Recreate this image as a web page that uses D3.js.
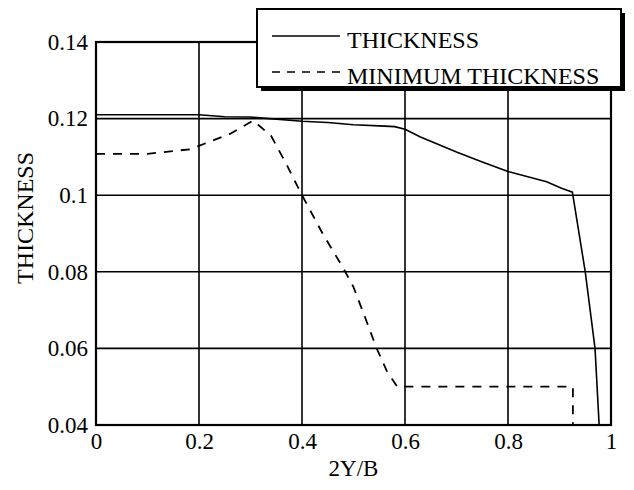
<!DOCTYPE html>
<html>
<head>
<meta charset="utf-8">
<script src="https://cdn.jsdelivr.net/npm/d3@7"></script>
<style>
  body { margin: 0; background: #fff; }
  svg text { font-family: "Liberation Serif", "Times New Roman", serif; fill: #000; }
</style>
</head>
<body>
<svg id="chart" width="634" height="490"></svg>
<script>
// span position 2Y/B and thickness values
var thickX = [0, 0.2, 0.25, 0.3, 0.4, 0.45, 0.5, 0.55, 0.58, 0.6, 0.63, 0.7, 0.75, 0.8, 0.875, 0.904, 0.925, 0.95, 0.969, 0.977];
var thickY = [0.121, 0.121, 0.1205, 0.1204, 0.1193, 0.119, 0.1184, 0.1181, 0.1179, 0.1172, 0.1152, 0.1113, 0.1087, 0.1062, 0.1035, 0.1018, 0.1008, 0.08, 0.06, 0.04];

var minX = [0, 0.1, 0.183, 0.2, 0.26, 0.305, 0.34, 0.37, 0.4, 0.44, 0.48, 0.5, 0.52, 0.545, 0.565, 0.585, 0.926, 0.926];
var minY = [0.1108, 0.1108, 0.112, 0.1129, 0.116, 0.1195, 0.1155, 0.108, 0.1, 0.09, 0.081, 0.076, 0.069, 0.06, 0.054, 0.05, 0.05, 0.04];

var xTicks = [0, 0.2, 0.4, 0.6, 0.8, 1];
var yTicks = [0.04, 0.06, 0.08, 0.1, 0.12, 0.14];
var legendLabels = ["THICKNESS", "MINIMUM THICKNESS"];

var svg = d3.select("#chart");
var margin = {top: 42, left: 96, right: 23, bottom: 65};
var width = 634 - margin.left - margin.right,
    height = 490 - margin.top - margin.bottom;

var x = d3.scaleLinear().domain([0, 1]).range([margin.left, margin.left + width]);
var y = d3.scaleLinear().domain([0.04, 0.14]).range([margin.top + height, margin.top]);

var fmt = function(d) { return d === 0 ? "0" : d === 1 ? "1" : String(+d.toFixed(2)); };

// grid lines
var grid = svg.append("g");
grid.selectAll(".vg").data(xTicks).enter().append("line")
    .attr("x1", d => x(d)).attr("x2", d => x(d))
    .attr("y1", y(0.04)).attr("y2", y(0.14))
    .attr("stroke", "#000").attr("stroke-width", 1.6);
grid.selectAll(".hg").data(yTicks).enter().append("line")
    .attr("x1", x(0)).attr("x2", x(1))
    .attr("y1", d => y(d)).attr("y2", d => y(d))
    .attr("stroke", "#000").attr("stroke-width", 1.6);

// frame
svg.append("rect")
    .attr("x", x(0)).attr("y", y(0.14))
    .attr("width", x(1) - x(0)).attr("height", y(0.04) - y(0.14))
    .attr("fill", "none").attr("stroke", "#000").attr("stroke-width", 2.2);

// axes (labels only)
var xAxis = svg.append("g")
    .attr("transform", "translate(0," + y(0.04) + ")")
    .call(d3.axisBottom(x).tickValues(xTicks).tickFormat(fmt).tickSize(0).tickPadding(8));
xAxis.select(".domain").remove();
xAxis.selectAll("text").attr("font-size", 23).attr("dy", "0.71em");

var yAxis = svg.append("g")
    .attr("transform", "translate(" + x(0) + ",0)")
    .call(d3.axisLeft(y).tickValues(yTicks).tickFormat(fmt).tickSize(0).tickPadding(8));
yAxis.select(".domain").remove();
yAxis.selectAll("text").attr("font-size", 23);

// curves
var line = d3.line().x(d => x(d[0])).y(d => y(d[1]));
svg.append("path")
    .datum(d3.zip(thickX, thickY))
    .attr("d", line)
    .attr("fill", "none").attr("stroke", "#000").attr("stroke-width", 1.6);
svg.append("path")
    .datum(d3.zip(minX, minY))
    .attr("d", line)
    .attr("fill", "none").attr("stroke", "#000").attr("stroke-width", 1.8)
    .attr("stroke-dasharray", "9,8");

// axis titles
svg.append("text")
    .attr("x", x(0.5)).attr("y", 476)
    .attr("text-anchor", "middle").attr("font-size", 23)
    .text("2Y/B");

svg.append("clipPath").attr("id", "ytclip")
    .append("rect").attr("x", 0).attr("y", 153).attr("width", 60).attr("height", 200);
svg.append("g")
    .attr("clip-path", "url(#ytclip)")
  .append("text")
    .attr("transform", "translate(33,218) rotate(-90)")
    .attr("text-anchor", "middle").attr("font-size", 24)
    .text("THICKNESS");

// legend
var lg = svg.append("g");
lg.append("rect").attr("x", 261).attr("y", 13).attr("width", 364).attr("height", 78).attr("fill", "#000");
lg.append("rect").attr("x", 257).attr("y", 9).attr("width", 364).attr("height", 78)
    .attr("fill", "#fff").attr("stroke", "#000").attr("stroke-width", 2);

var rows = lg.selectAll(".row").data(legendLabels).enter().append("g")
    .attr("transform", (d, i) => "translate(0," + (i * 36) + ")");
rows.append("line")
    .attr("x1", 272).attr("x2", 340).attr("y1", 36).attr("y2", 36)
    .attr("stroke", "#000").attr("stroke-width", 1.6)
    .attr("stroke-dasharray", (d, i) => i === 1 ? "8,7" : null);
rows.append("text")
    .attr("x", 347).attr("y", 48)
    .attr("font-size", 24)
    .text(d => d);
</script>
</body>
</html>
